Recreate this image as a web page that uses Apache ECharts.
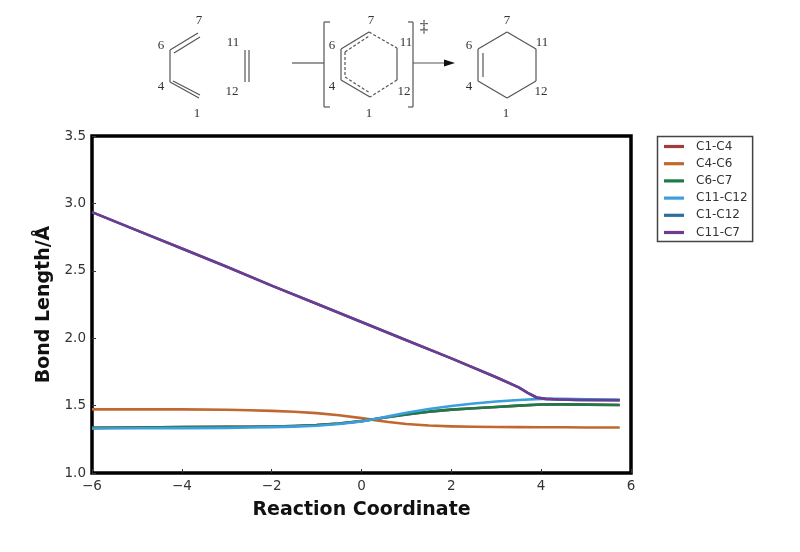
<!DOCTYPE html>
<html><head><meta charset="utf-8">
<style>html,body{margin:0;padding:0;background:#fff}#c{width:800px;height:552px}</style>
<script src="https://cdn.jsdelivr.net/npm/echarts@6/dist/echarts.min.js"></script>
</head><body><div id="c"></div>
<script>
const xC14 = [-6,-5,-4,-3,-2.5,-2,-1.5,-1,-0.5,0,0.3,0.6,1,1.5,2,2.5,3,3.5,4,4.5,5,5.75];
const c6c7 = [1.335,1.338,1.34,1.342,1.343,1.345,1.349,1.356,1.367,1.385,1.40,1.415,1.435,1.455,1.47,1.48,1.49,1.50,1.508,1.509,1.507,1.505];
const c1c4 = c6c7.slice();
const c4c6 = [1.472,1.472,1.472,1.469,1.466,1.461,1.454,1.444,1.428,1.407,1.392,1.378,1.363,1.352,1.346,1.343,1.341,1.34,1.339,1.339,1.338,1.338];
const c11c12 = [1.33,1.332,1.333,1.335,1.337,1.34,1.344,1.351,1.363,1.383,1.40,1.42,1.447,1.475,1.497,1.515,1.53,1.542,1.55,1.55,1.547,1.545];
const xC117 = [-6,-5,-4,-3,-2,-1,0,1,2,3,3.5,3.7,3.9,4.1,4.4,4.8,5.75];
const c11c7 = [2.935,2.80,2.665,2.53,2.39,2.255,2.12,1.985,1.85,1.71,1.635,1.595,1.56,1.55,1.545,1.542,1.54];
const c1c12 = c11c7.slice();
const xTicks = [-6,-4,-2,0,2,4,6];
const names = ['C1-C4','C4-C6','C6-C7','C11-C12','C1-C12','C11-C7'];
const colors = ['#a23b3b','#c0682f','#1f7a4a','#3a9fdc','#2a6f9e','#6f3a8f'];
const zip = (x,y)=>x.map((v,i)=>[v,y[i]]);
const seriesData = [zip(xC14,c1c4),zip(xC14,c4c6),zip(xC14,c6c7),zip(xC14,c11c12),zip(xC117,c1c12),zip(xC117,c11c7)];

const solid = [
 [170,50,198,33],[174,53,200,37],[170,50,170,82],[170,82,199,98],[173,81,200,95],
 [245,50,245,82],[249,50,249,82],
 [292,63,324,63],[330,22,324,22],[324,22,324,107],[324,107,330,107],
 [408,22,413,22],[413,22,413,107],[413,107,408,107],
 [341,49,369,32],[341,49,341,80],[341,80,370,97],[397,48,397,80],
 [413,63,446,63],
 [507,32,478,49],[478,49,478,81],[483,53,483,77],[478,81,507,98],[507,98,536,81],[536,81,536,49],[536,49,507,32]];
const dashed = [[369,32,397,48],[397,80,370,97],[345,52,369,36],[345,52,345,77],[345,77,370,93]];
const labels = [['7',199,21],['6',161,46],['4',161,87],['1',197,114],['11',233,43],['12',232,92],
 ['7',371,21],['6',332,46],['4',332,87],['1',369,114],['11',406,43],['12',404,92],
 ['7',507,21],['6',469,46],['4',469,87],['1',506,114],['11',542,43],['12',541,92]];
const seg = (s,dash)=>({type:'line',silent:true,shape:{x1:s[0],y1:s[1],x2:s[2],y2:s[3]},style:{stroke:'#555',lineWidth:1.2,lineDash:dash?[3,2]:null}});
const graphic = [
 ...solid.map(s=>seg(s,false)), ...dashed.map(s=>seg(s,true)),
 {type:'polygon',shape:{points:[[444,59.5],[455,63],[444,66.5]]},style:{fill:'#111'}},
 {type:'text',x:424,y:28,style:{text:'‡',fill:'#333',font:'17px "Liberation Serif"',textAlign:'center',textVerticalAlign:'middle'}},
 ...labels.map(l=>({type:'text',x:l[1],y:l[2],style:{text:l[0],fill:'#333',font:'13px "Liberation Serif"',textAlign:'center',textVerticalAlign:'middle'}}))
];

const chart = echarts.init(document.getElementById('c'),null,{renderer:'canvas'});
const tickLab = {color:'#333',fontFamily:'DejaVu Sans',fontSize:13.5};
chart.setOption({
 animation:false,
 backgroundColor:'#fff',
 graphic:graphic,
 grid:{left:92,top:136,width:539,height:337,show:true,borderColor:'#000',borderWidth:3.5,backgroundColor:'transparent'},
 legend:{orient:'vertical',left:657.5,top:136.5,padding:[4,5,3,6.5],itemGap:5.2,itemWidth:20,itemHeight:13,
  borderColor:'#444',borderWidth:1.5,backgroundColor:'#fff',
  textStyle:{fontFamily:'DejaVu Sans',fontSize:12,color:'#333',padding:[0,0,0,7]},
  data:names.map(n=>({name:n,icon:'path://M0 42H100V58H0Z'}))},
 xAxis:{type:'value',min:-6,max:6,interval:2,name:'Reaction Coordinate',nameLocation:'middle',nameGap:28,
  nameTextStyle:{fontFamily:'DejaVu Sans',fontSize:19,fontWeight:'bold',color:'#111'},
  axisLine:{show:false,onZero:false},axisTick:{show:true,inside:true,length:4,lineStyle:{color:'#333',width:1}},splitLine:{show:false},
  axisLabel:{...tickLab,margin:6,formatter:v=>xTicks.includes(v)?String(v).replace('-','\u2212'):''}},
 yAxis:{type:'value',min:1.0,max:3.5,interval:0.5,name:'Bond Length/Å',nameLocation:'middle',nameGap:38,
  nameTextStyle:{fontFamily:'DejaVu Sans',fontSize:19,fontWeight:'bold',color:'#111'},
  axisLine:{show:false,onZero:false},axisTick:{show:true,inside:true,length:4,lineStyle:{color:'#333',width:1}},splitLine:{show:false},
  axisLabel:{...tickLab,margin:6,formatter:v=>v.toFixed(1)}},
 series:names.map((n,i)=>({name:n,type:'line',data:seriesData[i],showSymbol:false,smooth:false,
  lineStyle:{color:colors[i],width:2.6,join:'round'},itemStyle:{color:colors[i]},clip:true,z:3+i}))
});
</script></body></html>
